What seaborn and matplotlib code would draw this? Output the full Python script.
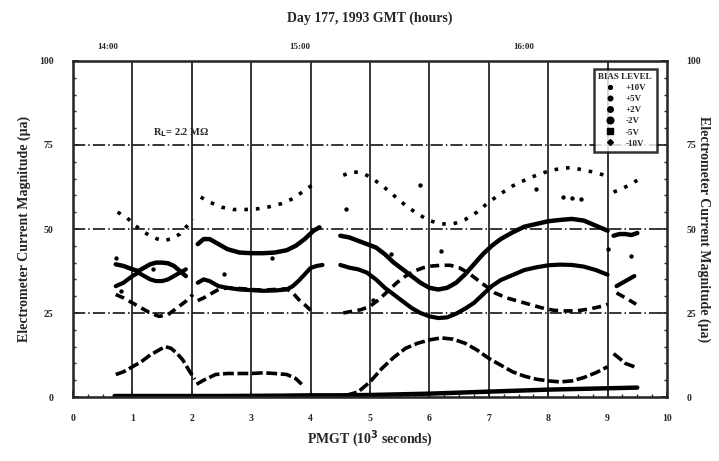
import numpy as np
import pandas as pd
import matplotlib.pyplot as plt
from matplotlib.lines import Line2D
from matplotlib.ticker import MultipleLocator
import seaborn as sns

sns.set_style('ticks')
plt.rcParams['font.family'] = ['Liberation Serif', 'DejaVu Serif']
plt.rcParams['font.weight'] = 'bold'

nan = np.nan

# values, nan = data gap
x_m10 = [0.75, 0.9, 1.05, 1.2, 1.35, 1.5, 1.65, 1.8, 1.95, 2.02, nan,
         2.15, 2.3, 2.5, 2.7, 2.9, 3.1, 3.3, 3.5, 3.7, 3.9, 4.1, nan,
         4.55, 4.7, 4.85, 5.0, 5.2, 5.4, 5.6, 5.8, 6.0, 6.2, 6.4, 6.6, 6.8, 7.0,
         7.2, 7.4, 7.6, 7.8, 8.0, 8.2, 8.4, 8.6, 8.8, 9.0, nan,
         9.1, 9.25, 9.4, 9.5]
y_m10 = [55, 53.5, 51, 49, 47.5, 46.5, 47, 48.5, 51.5, 53, nan,
         59.5, 58, 56.5, 55.8, 55.8, 56, 56.6, 57.5, 59, 61.5, 64, nan,
         66, 67, 66.8, 65.5, 63, 60, 57, 54.5, 52.5, 51.5, 51.5, 52.8, 55, 58,
         60.5, 62.8, 64.5, 66, 67.2, 68, 68.3, 67.5, 66.8, 65.7, nan,
         61, 62, 63.5, 64.5]

x_m5 = [0.72, 0.85, 1.0, 1.1, 1.2, 1.3, 1.4, 1.5, 1.6, 1.7, 1.8, 1.9, nan,
        2.1, 2.2, 2.3, 2.45, 2.6, 2.8, 3.0, 3.2, 3.4, 3.6, 3.75, 3.9, 4.05, 4.15, nan,
        4.5, 4.65, 4.8, 4.95, 5.1, 5.25, 5.4, 5.55, 5.7, 5.85, 6.0, 6.15, 6.3, 6.45,
        6.6, 6.75, 6.9, 7.05, 7.2, 7.4, 7.6, 7.8, 8.0, 8.2, 8.4, 8.6, 8.8, 9.0, nan,
        9.1, 9.2, 9.3, 9.4, 9.5]
y_m5 = [39.5, 39, 38, 37.5, 38.5, 39.5, 40, 40, 39.8, 39, 37.5, 36, nan,
        45.5, 47, 47, 45.5, 44, 43, 42.8, 42.8, 43, 43.7, 45, 47, 49.5, 50.5, nan,
        48, 47.5, 46.5, 45.5, 44.5, 42.5, 40, 38, 36, 34, 32.5, 32, 32.5, 34,
        36.5, 39.5, 42.5, 45, 47, 49, 50.7, 51.5, 52.3, 52.7, 53, 52.5, 51, 49.5, nan,
        48, 48.5, 48.5, 48.2, 48.8]

x_m2 = [0.72, 0.85, 1.0, 1.1, 1.2, 1.3, 1.4, 1.5, 1.6, 1.7, 1.8, 1.9, nan,
        2.1, 2.2, 2.3, 2.45, 2.6, 2.8, 3.0, 3.2, 3.4, 3.6, 3.7, 3.8, 3.9, 4.0, 4.1, 4.2, nan,
        4.5, 4.65, 4.8, 4.95, 5.1, 5.25, 5.4, 5.55, 5.7, 5.85, 6.0, 6.15, 6.3, 6.45,
        6.6, 6.75, 6.9, 7.05, 7.2, 7.4, 7.6, 7.8, 8.0, 8.2, 8.4, 8.6, 8.8, 9.0, nan,
        9.15, 9.25, 9.35, 9.45]
y_m2 = [33, 34, 36, 37, 36, 35, 34.5, 34.5, 35, 36, 37, 38, nan,
        34, 35, 34.5, 33, 32.5, 32, 31.8, 31.6, 31.7, 32, 33, 34.6, 36.5, 38.4, 39, 39.3, nan,
        39.3, 38.5, 38, 37, 35, 32.5, 30.5, 28.5, 26.5, 25, 24, 23.5, 23.7, 24.8,
        26.3, 28, 30.5, 33, 34.8, 36.3, 37.8, 38.6, 39.2, 39.4, 39.3, 38.8, 37.8, 36.4, nan,
        33, 34, 35, 36]

x_p2 = [0.72, 0.85, 1.0, 1.15, 1.3, 1.45, 1.6, 1.75, 1.9, 2.02, nan,
        2.1, 2.2, 2.3, 2.45, 2.6, 2.8, 3.0, 3.2, 3.4, 3.6, 3.7, 3.8, 3.9, 4.0, nan,
        4.55, 4.7, 4.85, 5.0, 5.15, 5.3, 5.45, 5.6, 5.75, 5.9, 6.05, 6.2, 6.35, 6.5,
        6.65, 6.8, 6.95, 7.1, 7.3, 7.5, 7.7, 7.9, 8.1, 8.3, 8.5, 8.7, 8.9, 9.0, nan,
        9.15, 9.25, 9.35, 9.48]
y_p2 = [30.5, 29.5, 28, 26.5, 25, 24, 24.5, 26.5, 28.5, 30.5, nan,
        28.7, 29.5, 30.5, 32, 32.5, 32.3, 32, 31.8, 32, 32.2, 31, 29, 27.5, 25.8, nan,
        25, 25.5, 26, 27, 29, 31.5, 34, 36, 37.5, 38.5, 39, 39.2, 39.2, 38.5,
        37, 35, 33, 31, 29.5, 28.5, 27.5, 26.5, 25.8, 25.6, 25.7, 26.2, 27, 27.6, nan,
        31, 30, 29, 27.6]

x_p5 = [0.72, 0.85, 1.0, 1.15, 1.3, 1.45, 1.55, 1.65, 1.75, 1.85, 1.95, 2.05, nan,
        2.08, 2.2, 2.4, 2.6, 2.8, 3.0, 3.2, 3.4, 3.6, 3.75, 3.85, nan,
        4.6, 4.8, 5.0, 5.2, 5.4, 5.6, 5.8, 6.0, 6.2, 6.4, 6.6, 6.8, 7.0, 7.2, 7.4,
        7.6, 7.8, 8.0, 8.2, 8.4, 8.6, 8.8, 9.0, nan,
        9.1, 9.2, 9.3, 9.45]
y_p5 = [6.7, 7.5, 9, 10.5, 12.5, 14, 15, 14.5, 13, 11, 8, 5.3, nan,
        3.8, 5, 6.7, 7, 7, 7, 7.2, 7, 6.7, 5.5, 3.8, nan,
        0.5, 1.5, 4.5, 8.5, 11.8, 14.5, 16, 17, 17.6, 17.2, 16, 14, 11.5, 9.5, 7.5,
        6.2, 5.3, 4.8, 4.5, 4.8, 5.8, 7.2, 9, nan,
        12.9, 11.5, 10, 9]

x_p10 = [0.7, 1.5, 2.5, 3.5, 4.0, 4.5, 5.0, 5.5, 6.0, 6.5, 7.0, 7.5, 8.0, 8.5, 9.0, 9.5]
y_p10 = [0.3, 0.3, 0.3, 0.4, 0.5, 0.5, 0.6, 0.8, 1.0, 1.3, 1.6, 1.9, 2.2, 2.4, 2.6, 2.8]

# isolated dots scattered around the curves
x_stray = [0.72, 0.8, 1.35, 2.55, 3.35, 4.6, 5.05, 5.35, 5.85, 6.2, 7.8, 8.25, 8.4, 8.55, 9.0, 9.4]
y_stray = [41.5, 31.5, 38, 36.5, 41.3, 56, 29, 42.5, 63, 43.5, 62, 59.5, 59.2, 59, 44, 42]

bias_labels = ['+10V', '+5V', '+2V', '-2V', '-5V', '-10V']
series = {'+10V': (x_p10, y_p10), '+5V': (x_p5, y_p5), '+2V': (x_p2, y_p2),
          '-2V': (x_m2, y_m2), '-5V': (x_m5, y_m5), '-10V': (x_m10, y_m10)}

rows = []
for name, (xs, ys) in series.items():
    seg = 0
    for xv, yv in zip(xs, ys):
        if np.isnan(xv):
            seg += 1
            continue
        rows.append((name, f'{name}_{seg}', xv, yv))
df = pd.DataFrame(rows, columns=['bias', 'seg', 'x', 'y'])

dash_map = {'+10V': '', '+5V': (3, 1), '+2V': (2.5, 1.5), '-2V': '', '-5V': '', '-10V': (1, 2.2)}
size_map = {'+10V': 3.2, '+5V': 2.6, '+2V': 2.6, '-2V': 3.0, '-5V': 3.2, '-10V': 2.6}

fig = plt.figure(figsize=(7.19, 4.61), dpi=100)
ax = fig.add_axes([0.1015, 0.1388, 0.8262, 0.7289])

# grid
for gx in range(1, 10):
    ax.axvline(gx, color='black', lw=1.1, zorder=0)
for gy in (25, 50, 75):
    ax.axhline(gy, color='black', lw=1.1, ls=(0, (8, 2, 1, 2)), zorder=0)

sns.lineplot(data=df, x='x', y='y', style='bias', dashes=dash_map, size='bias', sizes=size_map,
             units='seg', estimator=None, sort=False, color='black', legend=False, ax=ax)
sns.scatterplot(x=x_stray, y=y_stray, color='black', s=10, linewidth=0, ax=ax)

ax.set_xlim(0, 10)
ax.set_ylim(0, 100)
ax.set_xticks(range(0, 11))
ax.set_yticks([0, 25, 50, 75, 100])
ax.xaxis.set_minor_locator(MultipleLocator(0.25))
ax.yaxis.set_minor_locator(MultipleLocator(5))
ax.tick_params(which='both', direction='in', top=True, labelsize=7)
ax.tick_params(axis='x', pad=12)
ax.tick_params(axis='y', pad=14)
ax.tick_params(which='major', length=4, width=1.2)
ax.tick_params(which='minor', length=2.5, width=1)
for sp in ax.spines.values():
    sp.set_linewidth(1.8)
ax.set_xlabel('PMGT (10$^\\mathbf{3}$ seconds)', fontsize=10, fontweight='bold', labelpad=4)
ax.set_ylabel('Electrometer Current Magnitude (\u03bca)', fontsize=10, fontweight='bold', labelpad=6)

ax.text(1.35, 78, 'R$_\\mathbf{L}$= 2.2 M\u03a9', fontsize=7.5, fontweight='bold')

handles = [Line2D([], [], ls='', marker='.', color='k', markersize=5.5),
           Line2D([], [], ls='', marker='o', color='k', markersize=3.3),
           Line2D([], [], ls='', marker='o', color='k', markersize=4),
           Line2D([], [], ls='', marker='o', color='k', markersize=4.8),
           Line2D([], [], ls='', marker='s', color='k', markersize=4.2),
           Line2D([], [], ls='', marker='D', color='k', markersize=3)]
leg = ax.legend(handles, bias_labels, title='BIAS LEVEL', loc='upper right',
                bbox_to_anchor=(0.99, 0.99), fontsize=6.5, title_fontsize=6.5,
                frameon=True, fancybox=False, edgecolor='black', handlelength=1.2,
                labelspacing=0.3, borderpad=0.5, handletextpad=1.2)
leg.get_frame().set_linewidth(1.8)
leg.get_title().set_fontweight('bold')

axr = ax.twinx()
axr.set_ylim(0, 100)
axr.set_yticks([0, 25, 50, 75, 100])
axr.yaxis.set_minor_locator(MultipleLocator(5))
axr.tick_params(which='both', direction='in', labelsize=7, pad=14)
axr.tick_params(which='major', length=4, width=1.2)
axr.tick_params(which='minor', length=2.5, width=1)
axr.set_ylabel('Electrometer Current Magnitude (\u03bca)', fontsize=10, fontweight='bold',
               rotation=270, labelpad=7)

axt = ax.twiny()
axt.set_xlim(0, 10)
axt.set_xticks([0.59, 3.82, 7.58])
axt.set_xticklabels(['14:00', '15:00', '16:00'])
axt.tick_params(length=0, labelsize=6.5, pad=7)
axt.set_title('Day 177, 1993 GMT (hours)', fontsize=10, fontweight='bold', pad=28)

fig.savefig('out.png', dpi=100)
